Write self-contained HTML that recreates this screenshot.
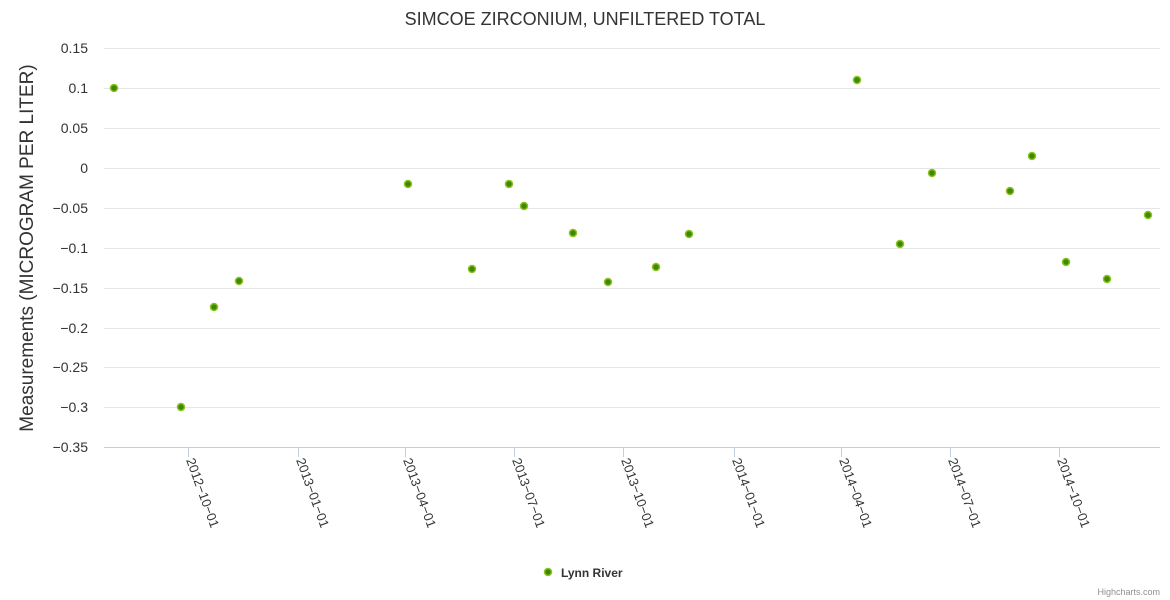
<!DOCTYPE html>
<html><head><meta charset="utf-8"><style>body{margin:0;background:#fff}svg{display:block}text{font-family:"Liberation Sans",sans-serif}</style></head><body>
<svg width="1170" height="600" xmlns="http://www.w3.org/2000/svg">
<rect width="1170" height="600" fill="#fff"/>
<text x="585" y="25" text-anchor="middle" font-size="18" fill="#333">SIMCOE ZIRCONIUM, UNFILTERED TOTAL</text>
<g stroke="#e6e6e6" stroke-width="1">
<line x1="104" x2="1160" y1="48.5" y2="48.5"/><line x1="104" x2="1160" y1="88.5" y2="88.5"/><line x1="104" x2="1160" y1="128.5" y2="128.5"/><line x1="104" x2="1160" y1="168.5" y2="168.5"/><line x1="104" x2="1160" y1="208.5" y2="208.5"/><line x1="104" x2="1160" y1="248.5" y2="248.5"/><line x1="104" x2="1160" y1="288.5" y2="288.5"/><line x1="104" x2="1160" y1="328.5" y2="328.5"/><line x1="104" x2="1160" y1="367.5" y2="367.5"/><line x1="104" x2="1160" y1="407.5" y2="407.5"/>
</g>
<line x1="104" x2="1160" y1="447.5" y2="447.5" stroke="#c0d0e0"/>
<g stroke="#c0d0e0">
<line x1="188.5" x2="188.5" y1="447" y2="457"/><line x1="298.5" x2="298.5" y1="447" y2="457"/><line x1="405.5" x2="405.5" y1="447" y2="457"/><line x1="514.5" x2="514.5" y1="447" y2="457"/><line x1="623.5" x2="623.5" y1="447" y2="457"/><line x1="734.5" x2="734.5" y1="447" y2="457"/><line x1="841.5" x2="841.5" y1="447" y2="457"/><line x1="950.5" x2="950.5" y1="447" y2="457"/><line x1="1059.5" x2="1059.5" y1="447" y2="457"/>
</g>
<g font-size="14" fill="#333" text-anchor="end">
<text x="88" y="53">0.15</text><text x="88" y="93">0.1</text><text x="88" y="133">0.05</text><text x="88" y="173">0</text><text x="88" y="213">−0.05</text><text x="88" y="253">−0.1</text><text x="88" y="293">−0.15</text><text x="88" y="333">−0.2</text><text x="88" y="372">−0.25</text><text x="88" y="412">−0.3</text><text x="88" y="452">−0.35</text>
</g>
<text transform="translate(33,248) rotate(-90)" text-anchor="middle" font-size="19" fill="#333">Measurements (MICROGRAM PER LITER)</text>
<g font-size="13" fill="#333">
<text transform="translate(186,460) rotate(70)">2012−10−01</text>
<text transform="translate(296,460) rotate(70)">2013−01−01</text>
<text transform="translate(403,460) rotate(70)">2013−04−01</text>
<text transform="translate(512,460) rotate(70)">2013−07−01</text>
<text transform="translate(621,460) rotate(70)">2013−10−01</text>
<text transform="translate(732,460) rotate(70)">2014−01−01</text>
<text transform="translate(839,460) rotate(70)">2014−04−01</text>
<text transform="translate(948,460) rotate(70)">2014−07−01</text>
<text transform="translate(1057,460) rotate(70)">2014−10−01</text>
</g>
<g fill="#3c8a00" stroke="#8cc21e" stroke-width="1.5">
<circle cx="114" cy="88" r="3.5"/><circle cx="181" cy="407" r="3.5"/><circle cx="214" cy="307" r="3.5"/><circle cx="239" cy="281" r="3.5"/><circle cx="408" cy="184" r="3.5"/><circle cx="472" cy="269" r="3.5"/><circle cx="509" cy="184" r="3.5"/><circle cx="524" cy="206" r="3.5"/><circle cx="573" cy="233" r="3.5"/><circle cx="608" cy="282" r="3.5"/><circle cx="656" cy="267" r="3.5"/><circle cx="689" cy="234" r="3.5"/><circle cx="857" cy="80" r="3.5"/><circle cx="900" cy="244" r="3.5"/><circle cx="932" cy="173" r="3.5"/><circle cx="1010" cy="191" r="3.5"/><circle cx="1032" cy="156" r="3.5"/><circle cx="1066" cy="262" r="3.5"/><circle cx="1107" cy="279" r="3.5"/><circle cx="1148" cy="215" r="3.5"/>
<circle cx="548" cy="572" r="3.5"/>
</g>
<text x="561" y="577" font-size="12" font-weight="bold" fill="#333">Lynn River</text>
<text x="1160" y="595" text-anchor="end" font-size="9" fill="#909090">Highcharts.com</text>
</svg>
</body></html>
